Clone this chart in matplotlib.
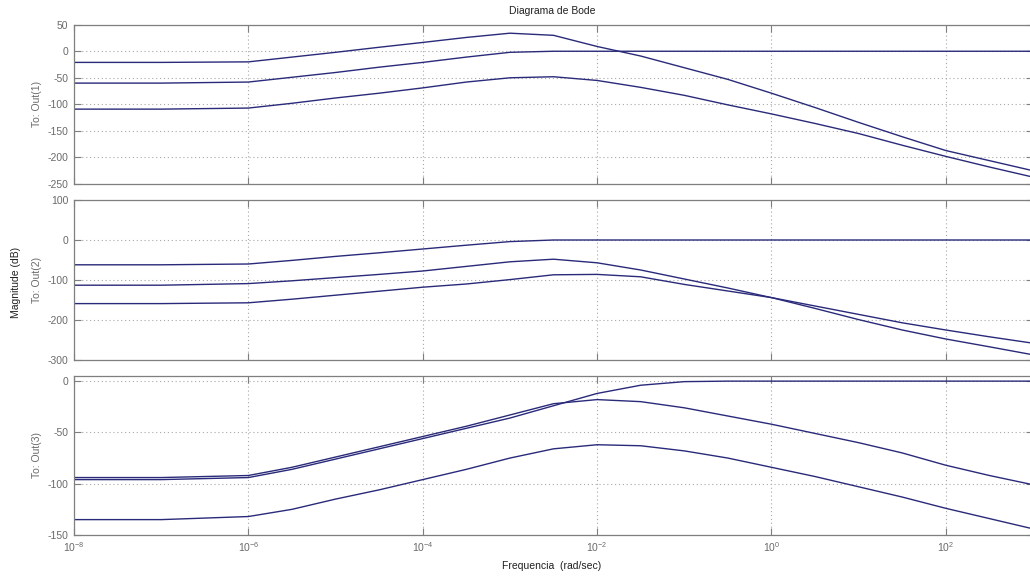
import numpy as np
import matplotlib
matplotlib.use("Agg")
import matplotlib.pyplot as plt

# ---------------- data ----------------
log_freq = [-8, -7, -6, -5.5, -5, -4.5, -4, -3.5, -3, -2.5, -2, -1.5, -1,
            -0.5, 0, 0.5, 1, 1.5, 2, 2.5, 3]
freq = [10.0 ** v for v in log_freq]

# Out(1)
out1_a = [-21, -21, -20, -11, -2, 7.5, 16.6, 26, 34, 30, 9, -9, -31,
          -53, -79, -106, -134, -161, -187, -206, -225]
out1_b = [-60, -60, -58, -49, -40, -30, -21, -11, -2, 0, 0, 0, 0,
          0, 0, 0, 0, 0, 0, 0, 0]
out1_c = [-109, -109, -107, -98, -88, -79, -69, -58, -50, -48, -55, -68, -83,
          -101, -118, -136, -155, -177, -198, -218, -237]

# Out(2)
out2_d = [-62, -62, -60, -51, -41, -32, -22.5, -13, -4, 0, 0, 0, 0,
          0, 0, 0, 0, 0, 0, 0, 0]
out2_e = [-113, -113, -109, -102, -94, -86, -77.5, -66, -54.5, -48, -57, -75, -97.5,
          -120, -144, -171, -199, -225, -247.5, -267, -287]
out2_f = [-159, -159, -157, -148, -138, -128, -118, -110, -99, -87, -86, -92, -111,
          -127.5, -144, -165, -186, -207, -225, -242, -258]

# Out(3)
out3_g = [-96, -96, -94, -86, -76, -66, -56, -46, -36, -24, -12, -4, -0.5,
          0, 0, 0, 0, 0, 0, 0, 0]
out3_h = [-94, -94, -92, -84, -74, -64, -54, -44, -33, -22, -18, -20, -26,
          -34, -42, -51, -60, -70, -82, -92, -101]
out3_i = [-135, -135, -132, -125, -115, -106, -96, -86, -75, -66, -62, -63, -68,
          -75, -84, -93, -103, -113, -124, -134, -144]

panel_labels = ["To: Out(1)", "To: Out(2)", "To: Out(3)"]
x_ticks = [1e-8, 1e-6, 1e-4, 1e-2, 1e0, 1e2]
x_tick_labels = [r"$10^{-8}$", r"$10^{-6}$", r"$10^{-4}$", r"$10^{-2}$",
                 r"$10^{0}$", r"$10^{2}$"]
y_ticks_1 = [-250, -200, -150, -100, -50, 0, 50]
y_ticks_2 = [-300, -200, -100, 0, 100]
y_ticks_3 = [-150, -100, -50, 0]

# ---------------- style ----------------
plt.rcParams["font.family"] = ["Liberation Sans", "DejaVu Sans"]
plt.rcParams["mathtext.fontset"] = "custom"
plt.rcParams["mathtext.rm"] = "Liberation Sans"
plt.rcParams["mathtext.it"] = "Liberation Sans:italic"
plt.rcParams["mathtext.bf"] = "Liberation Sans:bold"
plt.rcParams["axes.unicode_minus"] = False

W, H = 1030, 579
fig = plt.figure(figsize=(W / 100, H / 100), dpi=100)
fig.patch.set_facecolor("white")

line_color = "#2a2a7a"
axis_gray = "#7f7f7f"
text_gray = "#6a6a6a"
grid_gray = "#a8a8a8"

left_px, right_px = 74, 1033
panels_px = [(24.7, 184), (200, 360), (376, 535)]
ylims = [(-250, 50), (-300, 100), (-150, 5)]
yticks = [y_ticks_1, y_ticks_2, y_ticks_3]
series = [[out1_a, out1_b, out1_c], [out2_d, out2_e, out2_f], [out3_g, out3_h, out3_i]]

axes = []
for k, (top, bot) in enumerate(panels_px):
    ax = fig.add_axes([left_px / W, 1 - bot / H, (right_px - left_px) / W, (bot - top) / H])
    for s in series[k]:
        ax.plot(freq, s, color=line_color, lw=1.0)
    ax.set_xscale("log")
    ax.set_xlim(1e-8, 1e3)
    ax.set_ylim(*ylims[k])
    ax.set_yticks(yticks[k])
    ax.set_yticklabels([str(v) for v in yticks[k]])
    ax.set_xticks(x_ticks)
    ax.xaxis.set_minor_locator(matplotlib.ticker.NullLocator())
    if k == 2:
        ax.set_xticklabels(x_tick_labels)
    else:
        ax.set_xticklabels([])
    ax.grid(True, which="major", color=grid_gray, linestyle=(0, (1, 2.5)), linewidth=0.8)
    ax.tick_params(direction="in", length=5, width=0.8, colors=axis_gray,
                   labelcolor=text_gray, labelsize=7.5, top=True, right=True, pad=4)
    for sp in ax.spines.values():
        sp.set_color(axis_gray)
        sp.set_linewidth(0.9)
    fig.text(37 / W, 1 - ((top + bot) / 2) / H, panel_labels[k], rotation=90,
             ha="center", va="center", fontsize=7.5, color=text_gray)
    axes.append(ax)

fig.text(552 / W, 1 - 11 / H, "Diagrama de Bode", ha="center", va="center",
         fontsize=7.5, color="#202020")
fig.text(552 / W, 1 - 566 / H, "Frequencia  (rad/sec)", ha="center", va="center",
         fontsize=7.5, color="#202020")
fig.text(16 / W, 1 - 282 / H, "Magnitude (dB)", rotation=90, ha="center", va="center",
         fontsize=7.5, color="#202020")

fig.savefig("out.png", dpi=100, facecolor="white")
